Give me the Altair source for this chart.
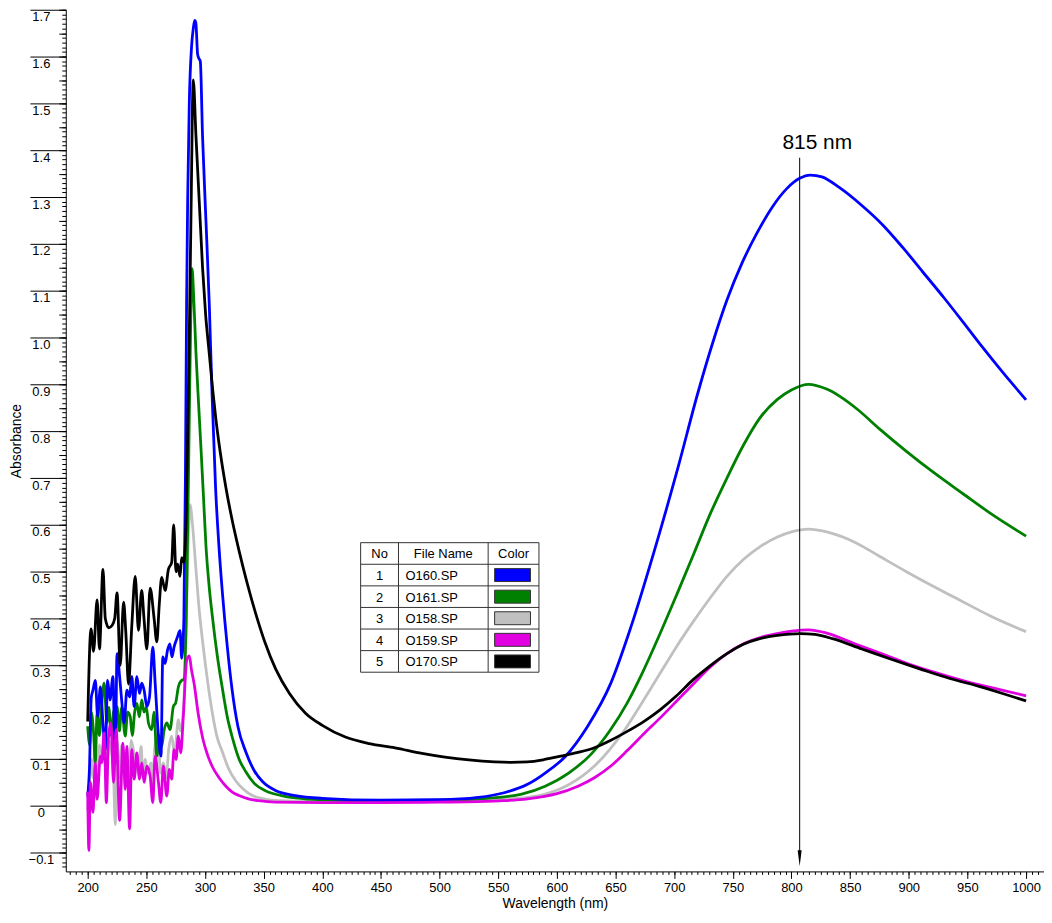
import altair as alt
import pandas as pd

FONT = "Liberation Sans"

names = ["O160.SP", "O161.SP", "O158.SP", "O159.SP", "O170.SP"]
colors = ["#0000FF", "#008000", "#C0C0C0", "#E000E0", "#000000"]

blue_nm = [200, 201.5, 203, 204.5, 206.5, 208.5, 210.8, 213, 215, 217, 219, 221.5, 223.5, 225, 227.2, 229.2, 231.1, 233.4,
           235.7, 237.6, 239.6, 241.9, 244.2, 246.1, 248.1, 250.4, 252.7, 255.5, 257.5, 260.3, 262.5, 264, 266, 268, 270,
           271.8, 273.6, 276.4, 278.7, 280.1, 282, 283.3, 284.3, 285.2, 286.6, 288.5, 290, 291.2, 292.2, 293.7, 295, 296,
           297.9, 300.8, 303.6, 306, 309, 312, 315, 319, 323, 328, 335, 342, 349, 360, 377, 400, 450, 500, 533, 555, 575,
           590, 607, 626, 646, 663, 683, 703, 720, 733, 745, 758, 771, 784, 796, 807, 816, 826, 841, 860, 878, 895, 912,
           930, 946, 962, 980, 1000]
blue_abs = [0.02, 0.08, 0.23, 0.247, 0.268, 0.191, 0.254, 0.177, 0.12, 0.268, 0.226, 0.276, 0.09, 0.325, 0.276, 0.219, 0.177,
            0.247, 0.233, 0.276, 0.212, 0.276, 0.24, 0.262, 0.247, 0.212, 0.233, 0.339, 0.262, 0.15, 0.106, 0.318, 0.304,
            0.332, 0.346, 0.318, 0.339, 0.36, 0.374, 0.315, 0.40, 0.70, 1.07, 1.29, 1.50, 1.62, 1.66, 1.677, 1.672, 1.605,
            1.595, 1.59, 1.43, 1.25, 1.074, 0.88, 0.68, 0.55, 0.45, 0.34, 0.25, 0.17, 0.114, 0.075, 0.052, 0.033, 0.022,
            0.016, 0.012, 0.013, 0.018, 0.028, 0.046, 0.07, 0.105, 0.169, 0.262, 0.381, 0.544, 0.72, 0.88, 0.99, 1.08,
            1.16, 1.225, 1.28, 1.318, 1.340, 1.347, 1.343, 1.320, 1.282, 1.240, 1.192, 1.140, 1.085, 1.034, 0.982,
            0.926, 0.867]

green_nm = [200, 201.7, 203, 205, 206.5, 208, 210, 212, 214, 216.4, 218, 220, 222, 225, 227, 229, 232, 234, 236.2, 238, 240,
            241.9, 244, 246.1, 248, 250, 251.8, 254.6, 256.5, 258.9, 261, 263.1, 265, 267.4, 270.2, 273, 275, 277.3, 280.1,
            282, 284, 286, 287.7, 289, 290.3, 292.3, 294.5, 296.6, 298.7, 300.8, 303.5, 306.4, 310.5, 315, 319, 323.4, 329,
            334.8, 342, 351.7, 365, 377, 400, 450, 500, 540, 570, 590, 610, 629, 645, 660, 674, 688, 702, 717, 731, 745,
            759, 773, 788, 800, 814.6, 830, 855.6, 875, 898, 920, 946, 970, 1000]
green_abs = [0.17, 0.13, 0.2, 0.156, 0.092, 0.2, 0.15, 0.22, 0.262, 0.177, 0.21, 0.15, 0.2, 0.212, 0.16, 0.21, 0.149, 0.2,
             0.191, 0.15, 0.2, 0.219, 0.19, 0.226, 0.2, 0.21, 0.177, 0.163, 0.2, 0.106, 0.15, 0.127, 0.16, 0.177, 0.163,
             0.212, 0.22, 0.254, 0.268, 0.27, 0.40, 0.72, 1.02, 1.147, 1.09, 0.967, 0.86, 0.762, 0.66, 0.556, 0.47, 0.402,
             0.32, 0.248, 0.19, 0.145, 0.10, 0.073, 0.048, 0.032, 0.022, 0.017, 0.013, 0.011, 0.012, 0.016, 0.025, 0.042,
             0.07, 0.11, 0.16, 0.22, 0.29, 0.368, 0.45, 0.54, 0.625, 0.70, 0.77, 0.828, 0.868, 0.888, 0.90, 0.89,
             0.848, 0.805, 0.757, 0.714, 0.667, 0.624, 0.576]

grey_nm = [200, 201.5, 203, 204.5, 206, 208, 210, 212, 214, 216, 218, 220, 222, 223.5, 225, 227, 229, 231, 233, 235, 237,
           239, 241, 243, 245.6, 247, 249, 251, 254, 255.5, 257, 260, 262, 264.5, 267, 269, 271.6, 274, 277.3, 279, 281.5,
           283.5, 285.5, 287.5, 289, 292.3, 295, 298, 302, 306.4, 310, 315, 320, 326.3, 333, 340.4, 350, 363, 400, 450,
           500, 550, 575, 590, 610, 632, 645, 658, 673, 688, 702, 717, 731, 745, 759, 773, 788, 800, 814.6, 830, 855.6,
           875, 898, 920, 946, 970, 1000]
grey_abs = [-0.01, 0.05, 0.1, 0.06, 0.12, 0.04, 0.13, 0.1, 0.15, 0.06, 0.14, 0.12, 0.07, -0.04, 0.14, 0.06, 0.13, 0.08, 0.12,
            0.03, 0.14, 0.12, 0.09, 0.07, 0.127, 0.06, 0.1, 0.07, 0.092, 0.04, 0.12, 0.156, 0.07, 0.092, 0.06, 0.12, 0.149,
            0.11, 0.184, 0.16, 0.2, 0.33, 0.55, 0.643, 0.61, 0.505, 0.42, 0.35, 0.27, 0.196, 0.15, 0.114, 0.08, 0.053, 0.035,
            0.022, 0.015, 0.011, 0.009, 0.009, 0.01, 0.014, 0.018, 0.025, 0.045, 0.085, 0.12, 0.163, 0.222, 0.283, 0.34,
            0.396, 0.445, 0.49, 0.526, 0.553, 0.574, 0.585, 0.591, 0.585, 0.561, 0.533, 0.50, 0.47, 0.436, 0.405, 0.372]

magenta_nm = [200, 201, 202.3, 204.5, 206.5, 208, 210.8, 212, 214, 215.9, 217.8, 219.8, 222, 224.3, 227.2, 230, 232, 233.4,
              235.7, 237.6, 239.6, 241.9, 244.2, 246.1, 248.1, 250.4, 253.2, 255.5, 257.5, 260.3, 262.3, 264.5, 267.4,
              269.6, 271.6, 273.6, 275.3, 277.3, 279.3, 281.5, 284.4, 286.6, 288.5, 290.9, 294, 298, 302, 306.4, 312,
              317.8, 323, 329, 337, 346, 360, 400, 450, 500, 533, 555, 575, 600, 618, 632, 646, 660, 675, 689, 703, 717,
              731, 745, 760, 774, 788, 800, 814.6, 830, 855, 880, 900, 925, 950, 975, 1000]
magenta_abs = [0.03, -0.095, 0.05, -0.014, 0.092, 0.014, 0.106, 0.092, 0.156, 0.007, 0.149, 0.177, 0.05, 0.163, -0.031,
               0.134, 0.035, 0.127, -0.049, 0.12, 0.057, 0.113, 0.057, 0.092, 0.05, 0.085, 0.064, 0.007, 0.106, 0.05,
               0.007, 0.085, 0.021, 0.078, 0.057, 0.12, 0.099, 0.149, 0.113, 0.191, 0.311, 0.32, 0.29, 0.258, 0.2, 0.145,
               0.11, 0.083, 0.06, 0.042, 0.03, 0.022, 0.015, 0.011, 0.008, 0.007, 0.007, 0.008, 0.009, 0.011, 0.015,
               0.026, 0.042, 0.06, 0.085, 0.118, 0.156, 0.19, 0.226, 0.262, 0.297, 0.325, 0.347, 0.36, 0.368, 0.373,
               0.376, 0.369, 0.345, 0.322, 0.303, 0.283, 0.265, 0.25, 0.235]

black_nm = [200, 202.8, 205, 208, 210, 213, 215, 218, 220.7, 223, 225, 227.7, 230.6, 232.5, 234.8, 237.6, 240.5, 243.3, 246,
            248, 250.4, 253.2, 256.6, 258.9, 261, 263.1, 266, 268.8, 271.6, 273.3, 275.3, 276.7, 278.7, 280.1, 282, 284,
            286, 288, 290, 292.3, 295.1, 297.9, 300.5, 303.6, 306.5, 309.3, 313, 317.8, 323, 329, 336, 343.3, 351, 360.3,
            372, 385.7, 400, 419.7, 440, 462, 485, 504.6, 525, 547, 561, 575, 589.6, 603.4, 618, 632, 646, 660, 674, 688,
            702, 716, 730, 745, 759, 773, 788, 807.5, 820, 835, 860, 885, 910, 935, 960, 980, 1000]
black_abs = [0.18, 0.378, 0.33, 0.44, 0.335, 0.505, 0.40, 0.38, 0.385, 0.40, 0.455, 0.30, 0.435, 0.37, 0.26, 0.385, 0.49,
             0.375, 0.46, 0.40, 0.335, 0.465, 0.40, 0.35, 0.43, 0.488, 0.46, 0.505, 0.52, 0.60, 0.50, 0.516, 0.49, 0.53,
             0.52, 0.62, 0.90, 1.25, 1.55, 1.43, 1.29, 1.15, 1.05, 0.967, 0.89, 0.825, 0.755, 0.68, 0.612, 0.545, 0.475,
             0.41, 0.35, 0.292, 0.24, 0.198, 0.172, 0.147, 0.133, 0.124, 0.112, 0.104, 0.098, 0.094, 0.093, 0.094,
             0.099, 0.106, 0.114, 0.124, 0.14, 0.159, 0.18, 0.205, 0.235, 0.269, 0.298, 0.325, 0.345, 0.357, 0.364, 0.368,
             0.366, 0.357, 0.335, 0.313, 0.292, 0.272, 0.255, 0.24, 0.224]

# axis tick values
x_major_ticks = list(range(200, 1001, 50))
x_minor_ticks = list(range(185, 1016, 5))
y_major_ticks = [round(-0.1 + 0.1 * i, 1) for i in range(19)]
y_mid_ticks = [round(-0.1 + 0.05 * i, 2) for i in range(37)]
y_minor_ticks = [round(-0.13 + 0.01 * i, 2) for i in range(184)]

# annotation (815 nm marker)
ann_nm = [807]
ann_top = [1.384]
ann_bottom = [-0.112]
ann_label = ["815 nm"]
ann_label_nm = [822]
ann_label_abs = [1.403]

W, H = 982, 865
xs = alt.Scale(domain=[181.3, 1015.3], nice=False, zero=False)
ys = alt.Scale(domain=[-0.14, 1.70], nice=False, zero=False)

x_major = alt.Axis(values=x_major_ticks, format="d", tickSize=7, tickColor="black", tickWidth=1, domainColor="black",
                   labelFont=FONT, labelFontSize=13, labelColor="black", labelPadding=3, labelFlush=False,
                   labelOverlap=False, title="Wavelength (nm)", titleFont=FONT, titleFontSize=14,
                   titleFontWeight="normal", titleColor="black", titlePadding=2, grid=False, orient="bottom")
x_minor = alt.Axis(values=x_minor_ticks, tickSize=3, tickColor="black", labels=False, domain=False, grid=False,
                   title=None, orient="bottom")
y_major = alt.Axis(values=y_major_ticks, tickSize=36, tickColor="black", tickWidth=1, domainColor="black",
                   labelFont=FONT, labelFontSize=13, labelColor="black", labelAlign="center", labelBaseline="top",
                   labelPadding=-11, labelOffset=1, labelOverlap=False, labelFlush=False,
                   labelExpr="datum.value == 0 ? '0' : format(datum.value, '.1f')",
                   title="Absorbance", titleFont=FONT, titleFontSize=14, titleFontWeight="normal",
                   titleColor="black", titlePadding=5, grid=False, orient="left")
y_mid = alt.Axis(values=y_mid_ticks, tickSize=7, tickColor="black", labels=False, domain=False, grid=False,
                 title=None, orient="left")
y_minor = alt.Axis(values=y_minor_ticks, tickSize=4, tickColor="black", labels=False, domain=False, grid=False,
                   title=None, orient="left")

series = {
    "O160.SP": (blue_nm, blue_abs),
    "O161.SP": (green_nm, green_abs),
    "O158.SP": (grey_nm, grey_abs),
    "O159.SP": (magenta_nm, magenta_abs),
    "O170.SP": (black_nm, black_abs),
}
color_of = dict(zip(names, colors))
draw_order = ["O158.SP", "O161.SP", "O160.SP", "O159.SP", "O170.SP"]
axes_for = {0: (x_major, y_major), 1: (x_minor, y_minor), 2: (None, y_mid)}

layers = []
for i, nm in enumerate(draw_order):
    xv, yv = series[nm]
    df = pd.DataFrame({"nm": xv, "abs": yv, "file": nm})
    xa, ya = axes_for.get(i, (None, None))
    layers.append(
        alt.Chart(df).mark_line(color=color_of[nm], strokeWidth=2.8, interpolate="monotone").encode(
            x=alt.X("nm:Q", scale=xs, axis=xa),
            y=alt.Y("abs:Q", scale=ys, axis=ya),
        )
    )

ann_df = pd.DataFrame({"nm": ann_nm, "top": ann_top, "bottom": ann_bottom})
rule = alt.Chart(ann_df).mark_rule(color="black", strokeWidth=1).encode(
    x=alt.X("nm:Q", scale=xs, axis=None), y=alt.Y("top:Q", scale=ys, axis=None), y2="bottom:Q")
arrow = alt.Chart(ann_df).mark_point(shape="M-0.25,-1L0.25,-1L0,1Z", size=256, filled=True, color="black",
                                     opacity=1).encode(
    x=alt.X("nm:Q", scale=xs, axis=None), y=alt.Y("bottom:Q", scale=ys, axis=None))
lab_df = pd.DataFrame({"nm": ann_label_nm, "abs": ann_label_abs, "t": ann_label})
label = alt.Chart(lab_df).mark_text(font=FONT, fontSize=21, color="black", align="center",
                                    baseline="alphabetic").encode(
    x=alt.X("nm:Q", scale=xs, axis=None), y=alt.Y("abs:Q", scale=ys, axis=None), text="t:N")

# legend table (layout in plot pixels)
T_LEFT, T_C1, T_C2, T_RIGHT = 296, 334, 424, 475
T_TOP, ROW_H = 535, 21.67
n_rows = len(names) + 1
T_BOTTOM = T_TOP + n_rows * ROW_H

leg = pd.DataFrame({"no": [str(i + 1) for i in range(len(names))], "file": names, "color": colors,
                    "row": list(range(1, len(names) + 1))})
leg["yc"] = T_TOP + (leg["row"] + 0.5) * ROW_H
leg["y1"] = leg["yc"] - 6.5
leg["y2"] = leg["yc"] + 6.5
leg["sx1"] = 430.5
leg["sx2"] = 466.5
hdr = pd.DataFrame({"t": ["No", "File Name", "Color"], "xc": [(T_LEFT + T_C1) / 2, (T_C1 + T_C2) / 2, (T_C2 + T_RIGHT) / 2],
                    "yc": [T_TOP + 0.5 * ROW_H] * 3})

bg = alt.Chart(pd.DataFrame({"a": [0]})).mark_rect(fill="white", stroke=None).encode(
    x=alt.value(T_LEFT), x2=alt.value(T_RIGHT), y=alt.value(T_TOP), y2=alt.value(T_BOTTOM))
hlines = pd.DataFrame({"y": [T_TOP + k * ROW_H for k in range(n_rows + 1)]})
hl = alt.Chart(hlines).mark_rule(color="#333333", strokeWidth=1).encode(
    x=alt.value(T_LEFT), x2=alt.value(T_RIGHT), y=alt.Y("y:Q", scale=None, axis=None))
vlines = pd.DataFrame({"x": [T_LEFT, T_C1, T_C2, T_RIGHT]})
vl = alt.Chart(vlines).mark_rule(color="#333333", strokeWidth=1).encode(
    x=alt.X("x:Q", scale=None, axis=None), y=alt.value(T_TOP), y2=alt.value(T_BOTTOM))
hdr_txt = alt.Chart(hdr).mark_text(font=FONT, fontSize=13, color="black", align="center", baseline="middle",
                                   dy=1).encode(
    x=alt.X("xc:Q", scale=None, axis=None), y=alt.Y("yc:Q", scale=None, axis=None), text="t:N")
no_txt = alt.Chart(leg).mark_text(font=FONT, fontSize=13, color="black", align="center", baseline="middle",
                                  dy=1).encode(
    x=alt.value((T_LEFT + T_C1) / 2), y=alt.Y("yc:Q", scale=None, axis=None), text="no:N")
file_txt = alt.Chart(leg).mark_text(font=FONT, fontSize=13, color="black", align="left", baseline="middle",
                                    dy=1).encode(
    x=alt.value(T_C1 + 7), y=alt.Y("yc:Q", scale=None, axis=None), text="file:N")
swatch = alt.Chart(leg).mark_rect(stroke="#333333", strokeWidth=1).encode(
    x=alt.X("sx1:Q", scale=None, axis=None), x2="sx2:Q",
    y=alt.Y("y1:Q", scale=None, axis=None), y2="y2:Q",
    fill=alt.Color("color:N", scale=None, legend=None))

chart = alt.layer(*layers, rule, arrow, label, bg, hl, vl, hdr_txt, no_txt, file_txt, swatch).resolve_axis(
    x="independent", y="independent"
).properties(
    width=W, height=H,
    padding={"left": 58, "top": 0, "right": 0, "bottom": 42},
    autosize=alt.AutoSizeParams(type="none"),
    background="white",
).configure_view(stroke=None)

chart.save("out.html", embed_options={"renderer": "svg", "actions": False})
